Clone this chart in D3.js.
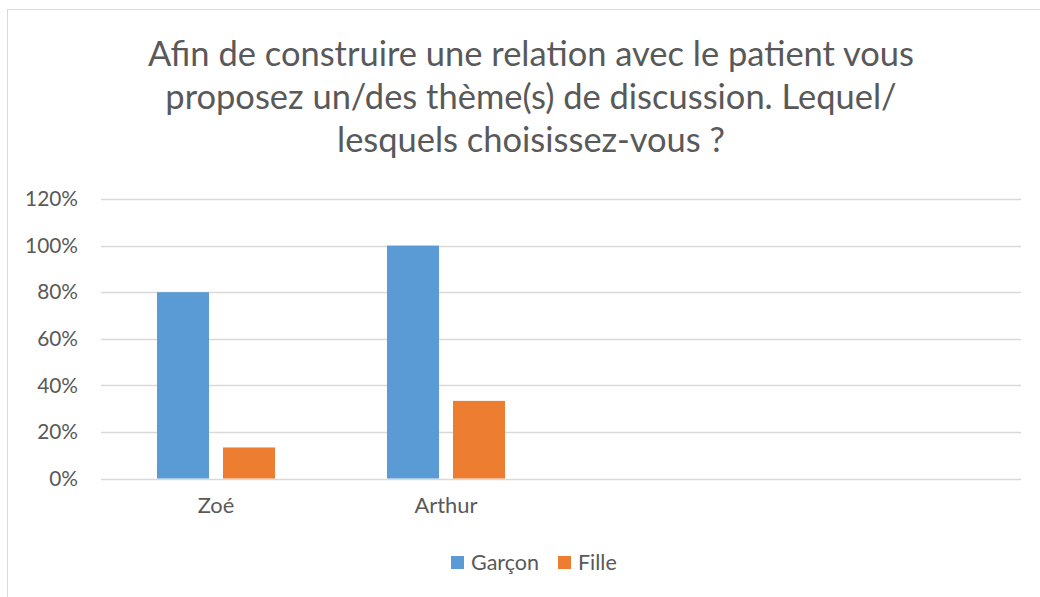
<!DOCTYPE html>
<html><head><meta charset="utf-8">
<script src="https://cdn.jsdelivr.net/npm/d3@7"></script>
<style>body{margin:0;background:#fff;} svg{display:block;}</style>
</head><body>
<svg id="c" width="1040" height="597"></svg>
<script>
const titleLines = ["Afin de construire une relation avec le patient vous", "proposez un/des thème(s) de discussion. Lequel/", "lesquels choisissez-vous ?"];
const categories = ["Zoé", "Arthur", "", " "];
const seriesNames = ["Garçon", "Fille"];
const garcon = [0.80, 1.00, null, null];
const fille = [0.1333, 0.3333, null, null];
const yTicks = [0, 0.2, 0.4, 0.6, 0.8, 1.0, 1.2];
const colors = ["#5b9bd5", "#ed7d31"];

const FONT = "Lato, 'Open Sans', sans-serif";
const svg = d3.select("#c");
function fitSize(str, target) {
  const t = svg.append("text").attr("font-family", FONT).attr("font-size", 20).text(str);
  const w = t.node().getComputedTextLength();
  t.remove();
  return 20 * target / w;
}
svg.append("rect").attr("x", 7.5).attr("y", 9.5).attr("width", 1040).attr("height", 600)
  .attr("fill", "#fff").attr("stroke", "#d9d9d9").attr("stroke-width", 1);

const m = {left: 101, right: 1021, top: 199, bottom: 478.5};
const x = d3.scaleBand().domain(categories).range([m.left, m.right]);
const y = d3.scaleLinear().domain([0, 1.2]).range([m.bottom, m.top]);
const barW = 52, gap = 14;

const tickFs = fitSize("120%", 53);
const xFs = fitSize("Arthur", 63);
const legFs = fitSize("Garçon", 68);

// gridlines
svg.append("g").selectAll("line").data(yTicks).join("line")
  .attr("x1", m.left).attr("x2", m.right)
  .attr("y1", d => Math.round(y(d)) + 0.5).attr("y2", d => Math.round(y(d)) + 0.5)
  .attr("stroke", "#d9d9d9").attr("stroke-width", 1.3);

// y labels
const yAxis = d3.axisLeft(y).tickValues(yTicks).tickFormat(d3.format(".0%")).tickSize(0).tickPadding(0);
const gy = svg.append("g").attr("transform", `translate(78,0)`).call(yAxis);
gy.select(".domain").remove();
gy.selectAll("text").attr("font-family", FONT).attr("font-size", tickFs).attr("fill", "#595959");

// bars
const series = [garcon, fille];
series.forEach((vals, si) => {
  svg.append("g").selectAll("rect").data(categories.map((c, i) => ({c, v: vals[i]})).filter(d => d.v != null))
    .join("rect")
    .attr("x", d => x(d.c) + x.bandwidth() / 2 - (barW + gap / 2) + si * (barW + gap))
    .attr("width", barW)
    .attr("y", d => y(d.v)).attr("height", d => y(0) - y(d.v))
    .attr("fill", colors[si]);
});

// x labels
const xAxis = d3.axisBottom(x).tickSize(0).tickPadding(0);
const gx = svg.append("g").attr("transform", `translate(0,497)`).call(xAxis);
gx.select(".domain").remove();
gx.selectAll("text").attr("font-family", FONT).attr("font-size", xFs).attr("fill", "#595959").attr("dy", "0.71em");

// title
const fs = fitSize(titleLines[0], 766);
svg.append("g").selectAll("text").data(titleLines).join("text")
  .attr("x", 531).attr("y", (d, i) => 66 + i * 43)
  .attr("text-anchor", "middle").attr("font-family", FONT).attr("font-size", fs)
  .attr("fill", "#595959").text(d => d);

// legend
const legX = [451, 558];
const lg = svg.append("g");
seriesNames.forEach((s, i) => {
  lg.append("rect").attr("x", legX[i]).attr("y", 556).attr("width", 13).attr("height", 13).attr("fill", colors[i]);
  lg.append("text").attr("x", legX[i] + 20).attr("y", 570).attr("font-family", FONT).attr("font-size", legFs)
    .attr("fill", "#595959").text(s);
});
</script>
</body></html>
